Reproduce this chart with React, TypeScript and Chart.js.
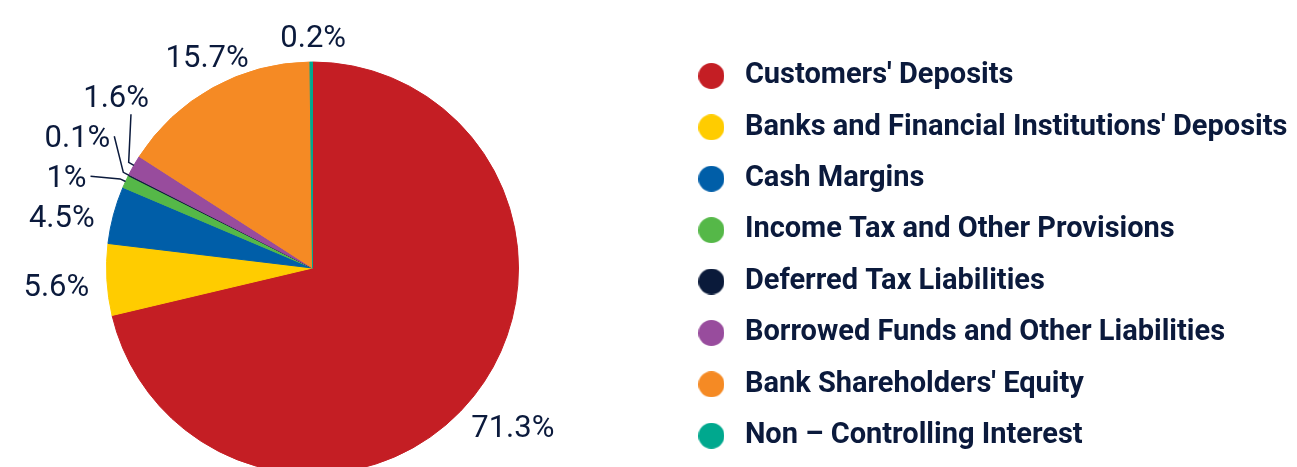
import React, { useEffect, useRef } from 'react';
import { Chart, registerables } from 'chart.js';

Chart.register(...registerables);

const categories = [
  "Customers' Deposits",
  "Banks and Financial Institutions' Deposits",
  'Cash Margins',
  'Income Tax and Other Provisions',
  'Deferred Tax Liabilities',
  'Borrowed Funds and Other Liabilities',
  "Bank Shareholders' Equity",
  'Non – Controlling Interest',
];
const shares = [71.3, 5.6, 4.5, 1, 0.1, 1.6, 15.7, 0.2];
const sliceColors = ['#c41e24', '#ffcc00', '#005ea8', '#55b848', '#0a1a3a', '#984c9d', '#f58a24', '#00a88e'];

const TEXT = '#0b1a3c';
const LABEL_FONT = '400 31px Roboto';
const LEGEND_SIZE = 29;
const LEGEND_PAD = 22.4;
const LEGEND_BOX = 38;
const LEGEND_LEFT = 715; // legend box left edge inside the canvas
const CANVAS_W = 1420;
const LABEL_DIST = 14; // label ring distance outside the pie
const LABEL_GAP = 4;
const SMALL_EXTRA = 22; // extra push for small slices (drawn with leader lines)
const MIN_SPACING = 40;

function makeDot(color: string, d = 26) {
  const c = document.createElement('canvas');
  c.width = d;
  c.height = d;
  const g = c.getContext('2d')!;
  g.fillStyle = color;
  g.beginPath();
  g.arc(d / 2, d / 2, d / 2, 0, Math.PI * 2);
  g.fill();
  return c;
}

const pieLabels = {
  id: 'pieLabels',
  afterDatasetsDraw(chart: any) {
    const meta = chart.getDatasetMeta(0);
    const ctx = chart.ctx as CanvasRenderingContext2D;
    ctx.save();
    ctx.font = LABEL_FONT;
    const items = meta.data.map((arc: any, i: number) => {
      const p = arc.getProps(['x', 'y', 'startAngle', 'endAngle', 'outerRadius'], true);
      const mid = (p.startAngle + p.endAngle) / 2;
      const cos = Math.cos(mid);
      const sin = Math.sin(mid);
      const R = p.outerRadius + LABEL_DIST;
      return {
        i,
        text: `${shares[i]}%`,
        cx: p.x,
        cy: p.y,
        r: p.outerRadius,
        cos,
        sin,
        R,
        y: p.y + R * sin + 5,
        small: shares[i] < 2,
      };
    });

    const left = items.filter((it: any) => it.cos < -0.05).sort((a: any, b: any) => b.y - a.y);
    for (let k = 1; k < left.length; k++) {
      left[k].y = Math.min(left[k].y, left[k - 1].y - MIN_SPACING);
    }

    ctx.fillStyle = TEXT;
    ctx.strokeStyle = TEXT;
    ctx.lineWidth = 1.5;
    ctx.textBaseline = 'alphabetic';
    const capShift = 11;

    items.forEach((it: any) => {
      const ax = it.cx + it.r * it.cos;
      const ay = it.cy + it.r * it.sin;
      if (Math.abs(it.cos) <= 0.05) {
        ctx.textAlign = 'center';
        const by = it.sin < 0 ? it.cy - it.r - 15 : it.cy + it.r + 35;
        ctx.fillText(it.text, ax + 2, by);
        return;
      }
      if (it.cos < 0) {
        const dy = it.y - it.cy;
        const dx = Math.sqrt(Math.max(it.R * it.R - dy * dy, 0));
        const extra = it.small ? SMALL_EXTRA : 0;
        const xr = it.cx - dx - LABEL_GAP - extra;
        ctx.textAlign = 'right';
        ctx.fillText(it.text, xr, it.y + capShift);
        if (it.small) {
          let ex: number, ey: number;
          if (xr + 4 < ax - 8) {
            ex = xr + 4;
            ey = it.y;
          } else {
            ex = xr - 18;
            ey = it.y + 18;
          }
          ctx.beginPath();
          ctx.moveTo(ax, ay);
          ctx.lineTo(ax + it.cos * 6, ay + it.sin * 6);
          ctx.lineTo(ex, ey);
          ctx.stroke();
        }
      } else {
        // right side: label box centred on the slice direction, just outside the rim
        const w = ctx.measureText(it.text).width;
        const h = 22;
        const d = it.r + 10 + Math.abs(it.cos) * w / 2 + Math.abs(it.sin) * h / 2;
        const lx = it.cx + it.cos * d;
        const ly = it.cy + it.sin * d;
        ctx.textAlign = 'center';
        ctx.fillText(it.text, lx, ly + capShift);
      }
    });
    ctx.restore();
  },
};

export default function App() {
  const ref = useRef<HTMLCanvasElement>(null);
  useEffect(() => {
    const dots = sliceColors.map((c) => makeDot(c));
    // measure the natural legend width so the legend box sits at LEGEND_LEFT
    const m = document.createElement('canvas').getContext('2d')!;
    m.font = `bold ${LEGEND_SIZE}px Roboto`;
    const maxText = Math.max(...categories.map((t) => m.measureText(t).width));
    const legendW = LEGEND_PAD + LEGEND_BOX + LEGEND_SIZE / 2 + maxText + 10;
    const padRight = Math.max(CANVAS_W - LEGEND_LEFT - legendW, 0);

    const chart = new Chart(ref.current!, {
      type: 'pie',
      data: {
        labels: categories,
        datasets: [
          {
            data: shares,
            backgroundColor: sliceColors,
            borderColor: sliceColors,
            borderWidth: 1,
          },
        ],
      },
      options: {
        animation: false,
        responsive: true,
        maintainAspectRatio: false,
        events: [],
        radius: 206,
        layout: { padding: { left: 0, top: 39, right: padRight, bottom: 3 } },
        plugins: {
          tooltip: { enabled: false },
          legend: {
            position: 'right',
            align: 'start',
            labels: {
              usePointStyle: true,
              pointStyleWidth: LEGEND_BOX,
              padding: LEGEND_PAD,
              color: TEXT,
              font: { family: 'Roboto', size: LEGEND_SIZE, weight: 'bold' },
              generateLabels: (ch: any) =>
                ch.data.labels.map((label: string, i: number) => ({
                  text: label,
                  fillStyle: sliceColors[i],
                  strokeStyle: sliceColors[i],
                  lineWidth: 0,
                  pointStyle: dots[i],
                  hidden: false,
                  index: i,
                  fontColor: TEXT,
                })),
            },
          },
        },
      } as any,
      plugins: [pieLabels],
    });
    return () => chart.destroy();
  }, []);

  return (
    <div
      style={{
        position: 'absolute',
        left: 0,
        top: 0,
        width: 1297,
        height: 467,
        overflow: 'hidden',
        background: '#fff',
      }}
    >
      <div style={{ position: 'absolute', left: -45, top: 0, width: CANVAS_W, height: 500 }}>
        <canvas ref={ref} />
      </div>
    </div>
  );
}
